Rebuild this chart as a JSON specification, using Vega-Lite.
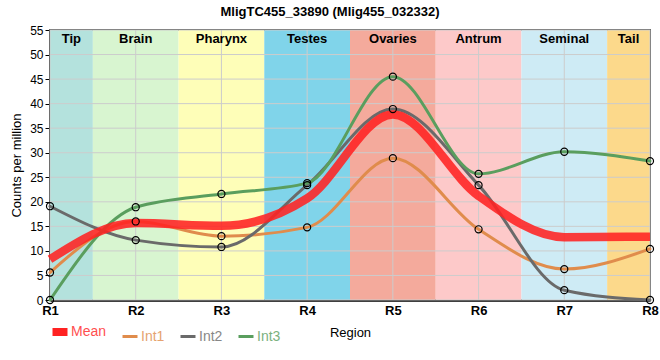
{
  "$schema": "https://vega.github.io/schema/vega-lite/v6.json",
  "width": 600,
  "height": 270,
  "autosize": {"type": "none"},
  "padding": {"left": 50, "top": 30, "right": 10, "bottom": 60},
  "background": "white",
  "title": {
    "text": "MligTC455_33890 (Mlig455_032332)",
    "font": "Liberation Sans",
    "fontSize": 13,
    "fontWeight": "bold",
    "color": "#000",
    "anchor": "middle",
    "dx": -20,
    "offset": 5
  },
  "config": {
    "view": {"stroke": "#000", "strokeWidth": 1.5},
    "font": "Liberation Sans"
  },
  "datasets": {
    "bands": [
      {"name": "Tip", "start": 1, "end": 1.5, "mid": 1.25},
      {"name": "Brain", "start": 1.5, "end": 2.5, "mid": 2},
      {"name": "Pharynx", "start": 2.5, "end": 3.5, "mid": 3},
      {"name": "Testes", "start": 3.5, "end": 4.5, "mid": 4},
      {"name": "Ovaries", "start": 4.5, "end": 5.5, "mid": 5},
      {"name": "Antrum", "start": 5.5, "end": 6.5, "mid": 6},
      {"name": "Seminal", "start": 6.5, "end": 7.5, "mid": 7},
      {"name": "Tail", "start": 7.5, "end": 8, "mid": 7.75}
    ],
    "gridy": [{"v": 0}, {"v": 5}, {"v": 10}, {"v": 15}, {"v": 20}, {"v": 25}, {"v": 30}, {"v": 35}, {"v": 40}, {"v": 45}, {"v": 50}, {"v": 55}],
    "gridx": [{"v": 1}, {"v": 2}, {"v": 3}, {"v": 4}, {"v": 5}, {"v": 6}, {"v": 7}, {"v": 8}],
    "expr": [
      {"pos": 1, "series": "Int1", "value": 5.6},
      {"pos": 2, "series": "Int1", "value": 16.0},
      {"pos": 3, "series": "Int1", "value": 13.0},
      {"pos": 4, "series": "Int1", "value": 14.8},
      {"pos": 5, "series": "Int1", "value": 28.9},
      {"pos": 6, "series": "Int1", "value": 14.4},
      {"pos": 7, "series": "Int1", "value": 6.3},
      {"pos": 8, "series": "Int1", "value": 10.4},
      {"pos": 1, "series": "Int2", "value": 19.1},
      {"pos": 2, "series": "Int2", "value": 12.2},
      {"pos": 3, "series": "Int2", "value": 10.8},
      {"pos": 4, "series": "Int2", "value": 23.4},
      {"pos": 5, "series": "Int2", "value": 38.9},
      {"pos": 6, "series": "Int2", "value": 23.4},
      {"pos": 7, "series": "Int2", "value": 2.0},
      {"pos": 8, "series": "Int2", "value": 0},
      {"pos": 1, "series": "Int3", "value": 0},
      {"pos": 2, "series": "Int3", "value": 18.9},
      {"pos": 3, "series": "Int3", "value": 21.6},
      {"pos": 4, "series": "Int3", "value": 23.8},
      {"pos": 5, "series": "Int3", "value": 45.5},
      {"pos": 6, "series": "Int3", "value": 25.7},
      {"pos": 7, "series": "Int3", "value": 30.2},
      {"pos": 8, "series": "Int3", "value": 28.3},
      {"pos": 1, "series": "Mean", "value": 8.3},
      {"pos": 2, "series": "Mean", "value": 15.7},
      {"pos": 3, "series": "Mean", "value": 15.1},
      {"pos": 4, "series": "Mean", "value": 20.7},
      {"pos": 5, "series": "Mean", "value": 37.8},
      {"pos": 6, "series": "Mean", "value": 21.2},
      {"pos": 7, "series": "Mean", "value": 12.8},
      {"pos": 8, "series": "Mean", "value": 12.9}
    ]
  },
  "layer": [
    {
      "data": {"name": "bands"},
      "mark": {"type": "rect"},
      "encoding": {
        "x": {"field": "start", "type": "quantitative", "scale": {"domain": [1, 8], "nice": false, "zero": false},
          "axis": {"values": [1, 2, 3, 4, 5, 6, 7, 8], "labelExpr": "'R' + datum.value", "grid": false, "ticks": false,
            "domainColor": "#000", "domainWidth": 2.5, "labelFont": "Liberation Sans", "labelFontSize": 13, "labelFontWeight": "bold",
            "labelColor": "#000", "labelPadding": 4, "title": "Region", "titleFont": "Liberation Sans", "titleFontSize": 13,
            "titleFontWeight": "normal", "titleColor": "#000", "titlePadding": 9, "labelFlush": false}},
        "x2": {"field": "end"},
        "fill": {"field": "name", "type": "nominal", "legend": null,
          "scale": {"domain": ["Tip", "Brain", "Pharynx", "Testes", "Ovaries", "Antrum", "Seminal", "Tail"],
            "range": ["#b4e2dd", "#d8f5d0", "#fefeb8", "#80d4ea", "#f4aa9c", "#fdc9c9", "#ceebf5", "#fcd98b"]}}
      }
    },
    {
      "data": {"name": "gridy"},
      "mark": {"type": "rule", "color": "#cccccc", "strokeWidth": 1},
      "encoding": {"y": {"field": "v", "type": "quantitative", "scale": {"domain": [0, 55], "nice": false},
          "axis": {"values": [0, 5, 10, 15, 20, 25, 30, 35, 40, 45, 50, 55], "tickCount": 12, "grid": false, "domainColor": "#000", "domainWidth": 2.5,
            "tickColor": "#000", "tickSize": 5, "labelFont": "Liberation Sans", "labelFontSize": 12, "labelColor": "#000", "labelPadding": 2,
            "labelOverlap": false, "title": "Counts per million", "titleFont": "Liberation Sans", "titleFontSize": 13, "titleFontWeight": "normal",
            "titleColor": "#000", "titlePadding": 6}}}
    },
    {
      "data": {"name": "gridx"},
      "mark": {"type": "rule", "color": "#cccccc", "strokeWidth": 1},
      "encoding": {"x": {"field": "v", "type": "quantitative"}}
    },
    {
      "data": {"name": "bands"},
      "mark": {"type": "text", "font": "Liberation Sans", "fontSize": 13, "fontWeight": "bold", "color": "#000", "baseline": "top", "dy": 3},
      "encoding": {
        "x": {"field": "mid", "type": "quantitative"},
        "y": {"datum": 55, "type": "quantitative",
          "axis": {"values": [0, 5, 10, 15, 20, 25, 30, 35, 40, 45, 50, 55], "tickCount": 12, "labelOverlap": false}},
        "text": {"field": "name"}
      }
    },
    {
      "data": {"name": "expr"},
      "transform": [{"filter": "datum.series != 'Mean'"}],
      "mark": {"type": "line", "interpolate": "monotone", "strokeCap": "round", "strokeWidth": 3},
      "encoding": {
        "x": {"field": "pos", "type": "quantitative"},
        "y": {"field": "value", "type": "quantitative",
          "axis": {"values": [0, 5, 10, 15, 20, 25, 30, 35, 40, 45, 50, 55], "tickCount": 12, "labelOverlap": false}},
        "stroke": {"field": "series", "type": "nominal",
          "scale": {"domain": ["Mean", "Int1", "Int2", "Int3"], "range": ["#ff2222", "#e08c4c", "#6a6a6a", "#5a9e5e"]},
          "legend": {"orient": "none", "legendX": 3, "legendY": 295, "direction": "horizontal", "title": null,
            "symbolType": "stroke", "symbolSize": 225, "labelFont": "Liberation Sans", "labelFontSize": 14, "labelOffset": 4,
            "columnPadding": 9,
            "encode": {
              "labels": {"update": {"fill": {"scale": "stroke", "field": "value"}, "opacity": {"value": 0.8}}},
              "symbols": {"update": {"strokeWidth": {"signal": "datum.value === 'Mean' ? 8 : 3"}, "strokeCap": {"value": "butt"}}}
            }}},
        "detail": {"field": "series"}
      }
    },
    {
      "data": {"name": "expr"},
      "transform": [{"filter": "datum.series == 'Mean'"}],
      "mark": {"type": "line", "interpolate": "monotone", "opacity": 0.88, "strokeCap": "butt", "strokeWidth": 8.5},
      "encoding": {
        "x": {"field": "pos", "type": "quantitative"},
        "y": {"field": "value", "type": "quantitative",
          "axis": {"values": [0, 5, 10, 15, 20, 25, 30, 35, 40, 45, 50, 55], "tickCount": 12, "labelOverlap": false}},
        "stroke": {"field": "series", "type": "nominal"}
      }
    },
    {
      "data": {"name": "expr"},
      "transform": [{"filter": "datum.series != 'Mean'"}],
      "mark": {"type": "point", "filled": false, "stroke": "#000", "strokeWidth": 1.2, "size": 50, "opacity": 1},
      "encoding": {
        "x": {"field": "pos", "type": "quantitative"},
        "y": {"field": "value", "type": "quantitative",
          "axis": {"values": [0, 5, 10, 15, 20, 25, 30, 35, 40, 45, 50, 55], "tickCount": 12, "labelOverlap": false}}
      }
    }
  ]
}
